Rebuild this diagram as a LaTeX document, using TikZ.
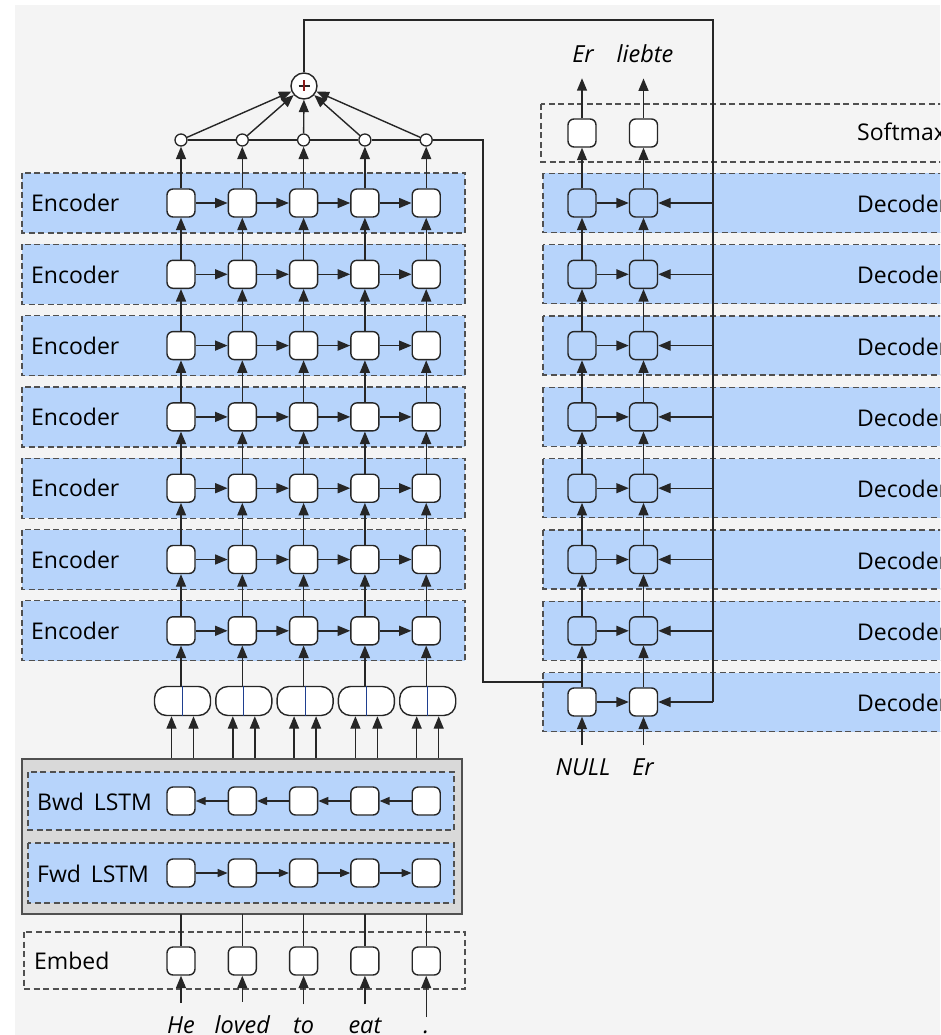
\documentclass[tikz,border=0pt]{standalone}
\usepackage{fontspec}
\setmainfont{Open Sans}
\usetikzlibrary{arrows.meta,calc}
\definecolor{bg}{HTML}{F4F4F4}
\definecolor{band}{HTML}{B7D4FB}
\definecolor{boxgray}{HTML}{D9D9D9}
\definecolor{edge}{HTML}{505050}
\definecolor{ink}{HTML}{262626}
\definecolor{plusred}{HTML}{8B1A1A}
\definecolor{splitblue}{HTML}{1F3F8F}

\begin{document}
\begin{tikzpicture}[x=1pt,y=-1pt,
  cell/.style={draw=ink, line width=1.4pt, fill=white, rounded corners=6pt,
    minimum width=28pt, minimum height=28pt, inner sep=0pt},
  dcell/.style={cell, fill=band},
  pair/.style={cell, minimum width=56pt, minimum height=29pt, rounded corners=12pt},
  att/.style={circle, draw=ink, fill=white, line width=1.3pt, minimum size=12pt, inner sep=0pt},
  sumnode/.style={circle, draw=ink, fill=white, line width=1.4pt, minimum size=26pt, inner sep=0pt},
  bandbox/.style={draw=edge, dash pattern=on 6pt off 3.5pt, line width=1.3pt, fill=band},
  plainband/.style={draw=edge, dash pattern=on 6pt off 3.5pt, line width=1.3pt},
  lab/.style={font=\fontsize{23}{27}\selectfont, anchor=base west, inner sep=0pt},
  word/.style={font=\itshape\fontsize{23.5}{27}\selectfont, anchor=base, inner sep=0pt},
  link/.style={line width=1.4pt, draw=ink},
  arr/.style={link, -{Triangle[length=12.5pt,width=10pt]}},
  sarr/.style={link, -{Triangle[length=10pt,width=8pt]}},
]
\useasboundingbox (0,0) rectangle (940,1035);
\clip (0,0) rectangle (940,1035);
\fill[white] (0,0) rectangle (940,1035);
\fill[bg] (15,5) rectangle (940,1035);

% ---------------- encoder stack ----------------
\foreach \r in {1,...,7} {
  \pgfmathsetmacro\yy{203+71.3*(\r-1)}
  \path[bandbox] (22,\yy-30) rectangle (465,\yy+30);
  \node[lab] (enclab-\r) at (31,\yy+8.7) {Encoder};
  \foreach \c in {1,...,5} {
    \pgfmathsetmacro\xx{181+61.3*(\c-1)}
    \node[cell] (e-\r-\c) at (\xx,\yy) {};
  }
}
\foreach \r in {1,...,7}
  \foreach \c in {1,...,4} {
    \pgfmathtruncatemacro\n{\c+1}
    \draw[arr] (e-\r-\c) -- (e-\r-\n);
  }
\foreach \r in {1,...,6}
  \foreach \c in {1,...,5} {
    \pgfmathtruncatemacro\b{\r+1}
    \draw[arr] (e-\b-\c) -- (e-\r-\c);
  }

% attention points and their sum
\foreach \c in {1,...,5} {
  \pgfmathsetmacro\xx{181+61.3*(\c-1)}
  \node[att] (a-\c) at (\xx,140) {};
  \draw[arr] (e-1-\c) -- (a-\c);
}
\node[sumnode] (sum) at (304,86) {};
\draw[line width=1.2pt, ink] ($(sum)+(-5.5,0)$) -- ($(sum)+(5.5,0)$);
\draw[line width=1.2pt, plusred] ($(sum)+(0,-5.5)$) -- ($(sum)+(0,5.5)$);
\foreach \c in {1,...,5}
  \draw[arr] (a-\c) -- (sum);
\foreach \c in {1,...,4} {
  \pgfmathtruncatemacro\n{\c+1}
  \draw[link] (a-\c.east) -- (a-\n.west);
}

% ---------------- concatenated bi-LSTM states ----------------
\foreach \c in {1,...,5} {
  \pgfmathsetmacro\xx{182.5+61.3*(\c-1)}
  \node[pair] (pc-\c) at (\xx,701) {};
  \draw[line width=1pt, splitblue] (pc-\c.north) -- (pc-\c.south);
  \draw[arr] (pc-\c.north -| e-7-\c) -- (e-7-\c.south);
  \coordinate (in-\c-l) at (\xx-11,759);
  \coordinate (in-\c-r) at (\xx+11,759);
  \draw[arr] (in-\c-l) -- (in-\c-l |- pc-\c.south);
  \draw[arr] (in-\c-r) -- (in-\c-r |- pc-\c.south);
}

% ---------------- bidirectional LSTM ----------------
\draw[draw=edge, fill=boxgray, line width=1.5pt] (22,759) rectangle (462,914);
\path[bandbox] (28,772) rectangle (454,830);
\path[bandbox] (28,843) rectangle (454,903);
\node[lab] (bwdlab) at (37,810) {Bwd\, LSTM};
\node[lab] (fwdlab) at (37,882) {Fwd\, LSTM};
\foreach \c in {1,...,5} {
  \pgfmathsetmacro\xx{181+61.3*(\c-1)}
  \node[cell] (b-\c) at (\xx,801) {};
  \node[cell] (f-\c) at (\xx,873) {};
}
\foreach \c in {1,...,4} {
  \pgfmathtruncatemacro\n{\c+1}
  \draw[sarr] (b-\n) -- (b-\c);
  \draw[sarr] (f-\c) -- (f-\n);
}

% ---------------- embedding layer ----------------
\path[plainband] (24,932) rectangle (465,989);
\node[lab] (emblab) at (34,969) {Embed};
\foreach \c/\w in {1/He,2/loved,3/to,4/eat,5/.} {
  \pgfmathsetmacro\xx{181+61.3*(\c-1)}
  \node[cell] (m-\c) at (\xx,961) {};
  \coordinate (lo-\c) at (\xx,914);
  \draw[link] (lo-\c) -- (m-\c.north);
  \node[word] (w-\c) at (\xx,1033) {\w};
  \draw[arr, shorten <=13pt] (w-\c.north -| m-\c) -- (m-\c.south);
}

% ---------------- decoder stack ----------------
\path[plainband] (541,104) rectangle (960,162);
\node[lab] (smlab) at (857,141) {Softmax};
\node[cell] (s-1) at (582,133) {};
\node[cell] (s-2) at (643.5,133) {};
\node[word] (o-1) at (583,63) {Er};
\node[word] (o-2) at (645,63) {liebte};
\foreach \c in {1,2}
  \draw[arr, shorten >=15pt] (s-\c.north) -- (s-\c.north |- o-\c.south);

\foreach \r in {1,...,8} {
  \pgfmathsetmacro\yy{203+71.3*(\r-1)}
  \path[bandbox] (543,\yy-29.5) rectangle (960,\yy+29.5);
  \node[lab] (declab-\r) at (857,\yy+9.5) {Decoder};
}
\foreach \r in {1,...,7} {
  \pgfmathsetmacro\yy{203+71.3*(\r-1)}
  \node[dcell] (d-\r-1) at (582,\yy) {};
  \node[dcell] (d-\r-2) at (643.5,\yy) {};
}
\node[cell] (d-8-1) at (582,702) {};
\node[cell] (d-8-2) at (643.5,702) {};

\foreach \r in {1,...,8}
  \draw[arr] (d-\r-1) -- (d-\r-2);
\foreach \r in {1,...,7}
  \foreach \c in {1,2} {
    \pgfmathtruncatemacro\b{\r+1}
    \draw[arr] (d-\b-\c) -- (d-\r-\c);
  }
\foreach \c in {1,2}
  \draw[arr] (d-1-\c) -- (s-\c);

\node[word] (i-1) at (583,775) {NULL};
\node[word] (i-2) at (643,775) {Er};
\foreach \c in {1,2}
  \draw[arr, shorten <=13pt] (i-\c.north -| d-8-\c) -- (d-8-\c.south);

% attention sum fed to every decoder layer
\coordinate (topR) at (713,20);
\coordinate (botR) at (713,702);
\draw[link] (sum.north) -- (sum.north |- topR) -- (topR) -- (botR);
\foreach \r in {1,...,8}
  \draw[arr] (d-\r-2 -| topR) -- (d-\r-2.east);

% context line into the first decoder layer
\coordinate (c1) at (483,140);
\coordinate (c2) at (483,682);
\draw[link] (a-5.east) -- (c1) -- (c2) -- (c2 -| d-8-1);
\end{tikzpicture}
\end{document}
